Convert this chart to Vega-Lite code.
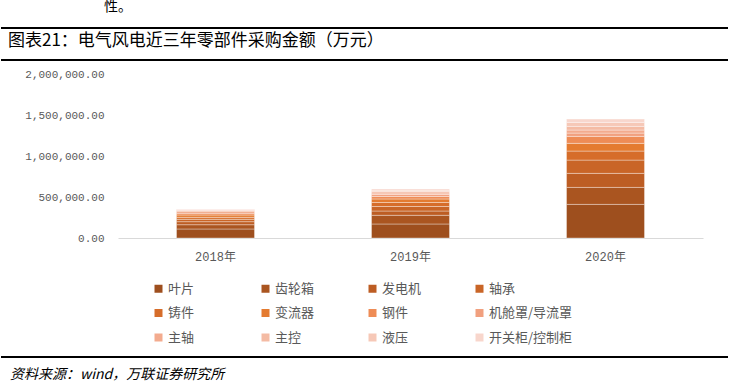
{
  "$schema": "https://vega.github.io/schema/vega-lite/v6.json",
  "background": "white",
  "padding": {"left": 1, "top": 0, "right": 0, "bottom": 0},
  "config": {"view": {"stroke": null}, "font": "Noto Sans CJK SC"},
  "spacing": 3,
  "vconcat": [
    {
      "width": 727, "height": 2,
      "data": {"values": [{}]},
      "mark": {"type": "rect", "color": "#000000"},
      "encoding": {},
      "title": {"text": "性。", "orient": "top", "anchor": "start", "dx": 103, "fontSize": 14, "fontWeight": "normal", "color": "#000000", "offset": 13, "font": "Noto Sans CJK SC"}
    },
    {
      "spacing": 7,
      "resolve": {"legend": {"color": "independent"}},
      "vconcat": [
        {
          "width": 727, "height": 2,
          "data": {"values": [{}]},
          "mark": {"type": "rect", "color": "#000000"},
          "encoding": {},
          "title": {"text": "图表21：电气风电近三年零部件采购金额（万元）", "orient": "top", "anchor": "start", "dx": 7, "fontSize": 17, "fontWeight": "normal", "color": "#000000", "offset": 9, "font": "Noto Sans CJK SC"}
        },
        {
          "width": 727, "height": 164,
          "data": {"values": [
            {"year": "2018年", "part": "叶片", "k": 1, "value": 110000},
            {"year": "2018年", "part": "齿轮箱", "k": 2, "value": 52000},
            {"year": "2018年", "part": "发电机", "k": 3, "value": 37000},
            {"year": "2018年", "part": "轴承", "k": 4, "value": 29000},
            {"year": "2018年", "part": "铸件", "k": 5, "value": 24000},
            {"year": "2018年", "part": "变流器", "k": 6, "value": 28000},
            {"year": "2018年", "part": "钢件", "k": 7, "value": 21000},
            {"year": "2018年", "part": "机舱罩/导流罩", "k": 8, "value": 20000},
            {"year": "2018年", "part": "主轴", "k": 9, "value": 12000},
            {"year": "2018年", "part": "主控", "k": 10, "value": 7000},
            {"year": "2018年", "part": "液压", "k": 11, "value": 7000},
            {"year": "2018年", "part": "开关柜/控制柜", "k": 12, "value": 7000},
            {"year": "2019年", "part": "叶片", "k": 1, "value": 171000},
            {"year": "2019年", "part": "齿轮箱", "k": 2, "value": 106000},
            {"year": "2019年", "part": "发电机", "k": 3, "value": 52000},
            {"year": "2019年", "part": "轴承", "k": 4, "value": 55000},
            {"year": "2019年", "part": "铸件", "k": 5, "value": 49000},
            {"year": "2019年", "part": "变流器", "k": 6, "value": 43000},
            {"year": "2019年", "part": "钢件", "k": 7, "value": 30000},
            {"year": "2019年", "part": "机舱罩/导流罩", "k": 8, "value": 24000},
            {"year": "2019年", "part": "主轴", "k": 9, "value": 18000},
            {"year": "2019年", "part": "主控", "k": 10, "value": 18000},
            {"year": "2019年", "part": "液压", "k": 11, "value": 16000},
            {"year": "2019年", "part": "开关柜/控制柜", "k": 12, "value": 15000},
            {"year": "2020年", "part": "叶片", "k": 1, "value": 410000},
            {"year": "2020年", "part": "齿轮箱", "k": 2, "value": 207000},
            {"year": "2020年", "part": "发电机", "k": 3, "value": 171000},
            {"year": "2020年", "part": "轴承", "k": 4, "value": 162000},
            {"year": "2020年", "part": "铸件", "k": 5, "value": 110000},
            {"year": "2020年", "part": "变流器", "k": 6, "value": 94000},
            {"year": "2020年", "part": "钢件", "k": 7, "value": 85000},
            {"year": "2020年", "part": "机舱罩/导流罩", "k": 8, "value": 40000},
            {"year": "2020年", "part": "主轴", "k": 9, "value": 37000},
            {"year": "2020年", "part": "主控", "k": 10, "value": 45000},
            {"year": "2020年", "part": "液压", "k": 11, "value": 49000},
            {"year": "2020年", "part": "开关柜/控制柜", "k": 12, "value": 40000}
          ]},
          "mark": {"type": "bar", "stroke": "#FFFFFF", "strokeWidth": 0.7, "strokeOpacity": 0.5},
          "encoding": {
            "x": {"field": "year", "type": "nominal", "title": null,
              "scale": {"paddingInner": 0.6, "paddingOuter": 0.3, "range": [117, 702]},
              "axis": {"labelAngle": 0, "domainColor": "#D9D9D9", "domainWidth": 1, "ticks": false, "labelPadding": 13, "labelFontSize": 12, "labelColor": "#595959", "labelFont": "Liberation Mono, Noto Sans CJK SC"}},
            "y": {"field": "value", "type": "quantitative", "stack": "zero", "title": null,
              "scale": {"domain": [0, 2000000]},
              "axis": {"values": [0, 500000, 1000000, 1500000, 2000000], "format": ",.2f", "grid": false, "domain": false, "ticks": false, "offset": -114, "labelPadding": 11, "labelFontSize": 11, "labelColor": "#595959", "labelFont": "Liberation Mono"}},
            "color": {"field": "part", "type": "nominal",
              "sort": ["叶片", "齿轮箱", "发电机", "轴承", "铸件", "变流器", "钢件", "机舱罩/导流罩", "主轴", "主控", "液压", "开关柜/控制柜"],
              "scale": {"domain": ["叶片", "齿轮箱", "发电机", "轴承", "铸件", "变流器", "钢件", "机舱罩/导流罩", "主轴", "主控", "液压", "开关柜/控制柜"],
                "range": ["#9E4F1E", "#AA5520", "#BD5D23", "#C96527", "#D66D2A", "#E47B30", "#EE8C56", "#F1A07F", "#F3AB8E", "#F4BBA4", "#F6C8B7", "#F8D6CC"]},
              "legend": {"title": null, "orient": "none", "legendX": 147, "legendY": 204, "direction": "horizontal", "columns": 4, "gridAlign": "all", "symbolType": "square", "symbolSize": 64, "symbolStrokeWidth": 0, "labelFontSize": 13, "labelColor": "#595959", "labelFont": "Noto Sans CJK SC", "labelOffset": 3, "columnPadding": 7, "rowPadding": 10.5, "labelLimit": 200, "padding": 4}},
            "order": {"field": "k", "type": "quantitative", "sort": "ascending"}
          }
        },
        {
          "width": 727, "height": 2,
          "data": {"values": [{}]},
          "mark": {"type": "rect", "color": "#000000"},
          "encoding": {},
          "title": {"text": "资料来源：wind，万联证券研究所", "orient": "bottom", "anchor": "start", "dx": 9, "fontSize": 14, "fontStyle": "italic", "fontWeight": "normal", "color": "#000000", "offset": 10, "font": "Noto Sans CJK SC"}
        }
      ]
    }
  ]
}
